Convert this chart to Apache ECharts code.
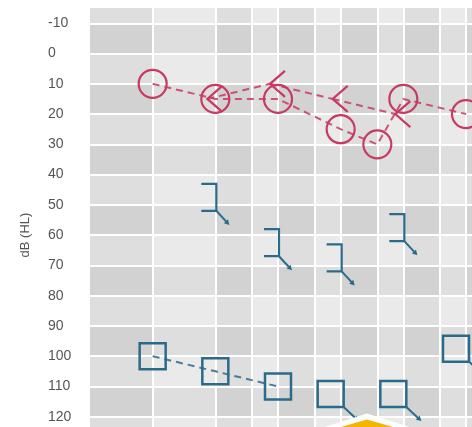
<!DOCTYPE html>
<html>
<head>
<meta charset="utf-8">
<script src="https://cdn.jsdelivr.net/npm/echarts@6/dist/echarts.min.js"></script>
<style>
html,body{margin:0;padding:0;background:#fff;}
#c{width:472px;height:427px;}
</style>
</head>
<body>
<div id="c"></div>
<script>
// ---- data ----
const rightACFreq = [250, 500, 1000, 2000, 3000, 4000, 8000];
const rightACdB   = [10, 15, 15, 25, 30, 15, 20];
const rightBCFreq = [500, 1000, 2000, 4000];
const rightBCdB   = [15, 10, 15, 20];
const leftBCNRFreq = [500, 1000, 2000, 4000];
const leftBCNRdB   = [47.5, 62.5, 67.5, 57.5];
const leftACFreq = [250, 500, 1000];
const leftACdB   = [100, 105, 110];
const leftACNRFreq = [2000, 4000, 8000];
const leftACNRdB   = [112.5, 112.5, 97.5];
const gridFreqs = [250, 500, 750, 1000, 1500, 2000, 3000, 4000, 6000, 8000];
const darkCols = [[125, 250], [500, 750], [1000, 1500], [2000, 3000], [4000, 6000], [8000, 8550]];
const yTicks = [-10, 0, 10, 20, 30, 40, 50, 60, 70, 80, 90, 100, 110, 120];
const darkRows = [[-10, 0], [10, 20], [30, 40], [50, 60], [70, 80], [90, 100], [110, 120]];
const yAxisName = 'dB (HL)';

const RED = '#c73a62';
const BLUE = '#2b6b8a';
const zip = (a, b) => a.map((v, i) => [v, b[i]]);

function arrow(x0, y0, x1, y1, color) {
  const dx = x1 - x0, dy = y1 - y0, L = Math.hypot(dx, dy);
  const ux = dx / L, uy = dy / L, px = -uy, py = ux;
  return [
    {type: 'line', shape: {x1: x0, y1: y0, x2: x1 - ux * 2, y2: y1 - uy * 2},
     style: {stroke: color, lineWidth: 2}},
    {type: 'polygon', shape: {points: [
      [x1 + ux * 1.5, y1 + uy * 1.5],
      [x1 - ux * 3.5 + px * 2.8, y1 - uy * 3.5 + py * 2.8],
      [x1 - ux * 3.5 - px * 2.8, y1 - uy * 3.5 - py * 2.8]]},
     style: {fill: color}}
  ];
}

const chart = echarts.init(document.getElementById('c'), null, {renderer: 'canvas'});

const option = {
  animation: false,
  backgroundColor: '#ffffff',
  grid: {left: 90, right: 0, top: -7, bottom: -20, show: true, backgroundColor: '#eaeaea', borderWidth: 0,
         containLabel: false, outerBoundsMode: 'none'},
  xAxis: {
    type: 'log', logBase: 2, min: 125, max: 8550,
    axisLine: {show: false}, axisTick: {show: false}, axisLabel: {show: false}, splitLine: {show: false}
  },
  yAxis: {
    type: 'value', inverse: true, min: -20, max: 130, interval: 10,
    axisLine: {show: false}, axisTick: {show: false}, splitLine: {show: false},
    axisLabel: {
      align: 'left', margin: 42, fontSize: 14, color: '#555', padding: [4, 0, 0, 0],
      fontFamily: 'Liberation Sans, Arial, sans-serif',
      formatter: v => (yTicks.indexOf(v) >= 0 ? String(v) : '')
    }
  },
  graphic: [
    {type: 'rect', shape: {x: 0, y: 0, width: 472, height: 8}, style: {fill: '#ffffff'}, z: 100},
    {type: 'text', x: 25, y: 235, rotation: Math.PI / 2,
     style: {text: yAxisName, fill: '#555', font: '13px "Liberation Sans", Arial, sans-serif', align: 'center', verticalAlign: 'middle'}, z: 100},
    {type: 'polygon', shape: {points: [[367, 413.5], [422, 431], [312, 431]]}, style: {fill: '#ffffff'}, z: 100},
    {type: 'polygon', shape: {points: [[367, 419.5], [407, 431], [327, 431]]}, style: {fill: '#f4b400'}, z: 101}
  ],
  series: [
    {
      type: 'line', data: [], z: 1, silent: true,
      markArea: {
        silent: true, z: 1,
        itemStyle: {color: 'rgba(0,0,0,0.05)'},
        data: darkRows.map(r => [{yAxis: r[0]}, {yAxis: r[1]}])
          .concat(darkCols.map(c => [{xAxis: c[0]}, {xAxis: c[1]}]))
      }
    },
    {
      type: 'line', data: [], z: 2, silent: true,
      markLine: {
        silent: true, z: 2, symbol: 'none', label: {show: false},
        lineStyle: {color: '#ffffff', width: 2, type: 'solid'},
        data: yTicks.map(v => ({yAxis: v})).concat(gridFreqs.map(f => ({xAxis: f})))
      }
    },
    {
      type: 'line', z: 3, data: zip(rightACFreq, rightACdB), symbol: 'none', silent: true,
      lineStyle: {color: RED, width: 2, type: [7, 5], opacity: 0.85}
    },
    {
      type: 'line', z: 3, data: zip(leftACFreq, leftACdB), symbol: 'none', silent: true,
      lineStyle: {color: BLUE, width: 2, type: [7, 5], opacity: 0.85}
    },
    {
      type: 'custom', z: 4, silent: true, data: zip(rightACFreq, rightACdB),
      renderItem: (params, api) => {
        const p = api.coord([api.value(0), api.value(1)]);
        return {type: 'circle', shape: {cx: p[0], cy: p[1], r: 14},
                style: {fill: 'none', stroke: RED, lineWidth: 2.2}};
      }
    },
    {
      type: 'custom', z: 4, silent: true, data: zip(rightBCFreq, rightBCdB),
      renderItem: (params, api) => {
        const i = params.dataIndex;
        const p = api.coord([api.value(0), api.value(1)]);
        const ch = [{type: 'polyline', shape: {points: [[p[0] + 7, p[1] - 13], [p[0] - 8, p[1]], [p[0] + 7, p[1] + 13]]},
                     style: {fill: 'none', stroke: RED, lineWidth: 2.2}}];
        if (i < rightBCFreq.length - 1) {
          const q = api.coord([rightBCFreq[i + 1], rightBCdB[i + 1]]);
          ch.push({type: 'line', shape: {x1: p[0] - 8, y1: p[1], x2: q[0] - 8, y2: q[1]},
                   style: {stroke: RED, lineWidth: 2, lineDash: [7, 5], opacity: 0.85}});
        }
        return {type: 'group', children: ch};
      }
    },
    {
      type: 'custom', z: 4, silent: true, data: zip(leftACFreq, leftACdB),
      renderItem: (params, api) => {
        const p = api.coord([api.value(0), api.value(1)]);
        return {type: 'rect', shape: {x: p[0] - 13, y: p[1] - 13, width: 26, height: 26},
                style: {fill: 'none', stroke: BLUE, lineWidth: 2.5}};
      }
    },
    {
      type: 'custom', z: 4, silent: true, data: zip(leftACNRFreq, leftACNRdB),
      renderItem: (params, api) => {
        const p = api.coord([api.value(0), api.value(1)]);
        const cx = p[0] - 10, cy = p[1];
        const ch = [{type: 'rect', shape: {x: cx - 13, y: cy - 13, width: 26, height: 26},
                     style: {fill: 'none', stroke: BLUE, lineWidth: 2.5}}]
          .concat(arrow(cx + 13, cy + 13, cx + 27, cy + 26, BLUE));
        return {type: 'group', children: ch};
      }
    },
    {
      type: 'custom', z: 4, silent: true, data: zip(leftBCNRFreq, leftBCNRdB),
      renderItem: (params, api) => {
        const p = api.coord([api.value(0), api.value(1)]);
        const x = p[0] + 1, y = p[1];
        const ch = [{type: 'polyline', shape: {points: [[x - 15, y - 13.5], [x, y - 13.5], [x, y + 13.5], [x - 15, y + 13.5]]},
                     style: {fill: 'none', stroke: BLUE, lineWidth: 2.2}}]
          .concat(arrow(x, y + 13.5, x + 12, y + 26.5, BLUE));
        return {type: 'group', children: ch};
      }
    }
  ]
};
chart.setOption(option);
</script>
</body>
</html>
